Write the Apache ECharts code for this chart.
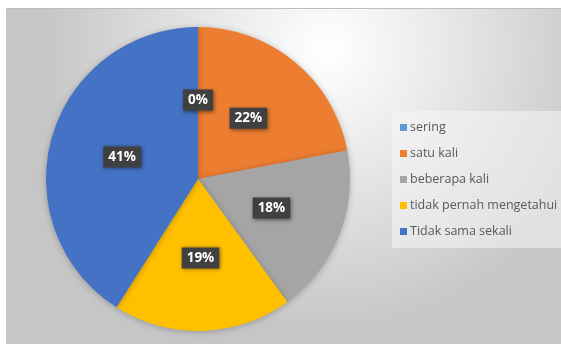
<!DOCTYPE html>
<html>
<head>
<meta charset="utf-8">
<script src="https://cdn.jsdelivr.net/npm/echarts@6/dist/echarts.min.js"></script>
<style>
  html, body { margin: 0; padding: 0; background: #ffffff; }
  #frame { position: absolute; left: 6px; top: 8px; width: 555px; height: 336px; border-top: 1px solid #bdbdbd; box-sizing: border-box; }
  #chart { width: 100%; height: 100%; }
</style>
</head>
<body>
<div id="frame"><div id="chart"></div></div>
<script>
// categories and values (percent)
const categories = ['sering', 'satu kali', 'beberapa kali', 'tidak pernah mengetahui', 'Tidak sama sekali'];
const values = [0, 22, 18, 19, 41];
const colors = ['#5B9BD5', '#ED7D31', '#A5A5A5', '#FFC000', '#4472C4'];

var myChart = echarts.init(document.getElementById('chart'));
var option = {
  animation: false,
  backgroundColor: {
    type: 'radial', x: 0.58, y: 0.12, r: 0.85,
    colorStops: [
      { offset: 0, color: '#ffffff' },
      { offset: 0.35, color: '#ececec' },
      { offset: 1, color: '#c6c6c6' }
    ]
  },
  color: colors,
  legend: {
    orient: 'vertical',
    left: 386,
    top: 102,
    padding: [10, 8, 10, 8],
    backgroundColor: 'rgba(245,245,245,0.55)',
    itemWidth: 7,
    itemHeight: 7,
    itemGap: 13,
    icon: 'rect',
    textStyle: { color: '#595959', fontSize: 12.5, fontFamily: 'Open Sans', padding: [0, 0, 0, -2] },
    data: categories
  },
  series: [{
    type: 'pie',
    center: [192, 170],
    radius: [0, 152],
    startAngle: 90,
    clockwise: true,
    avoidLabelOverlap: false,
    itemStyle: { shadowBlur: 6, shadowColor: 'rgba(0,0,0,0.25)', shadowOffsetY: 1 },
    label: {
      show: true,
      position: 'inside',
      formatter: '{c}%',
      color: '#ffffff',
      fontWeight: 'bold',
      fontSize: 13.5,
      fontFamily: 'Open Sans',
      backgroundColor: '#404040',
      padding: [4, 5, 3, 5],
      shadowBlur: 4,
      shadowColor: 'rgba(0,0,0,0.5)',
      shadowOffsetX: 1,
      shadowOffsetY: 1
    },
    labelLine: { show: false },
    data: categories.map(function (name, i) { return { name: name, value: values[i] }; })
  }]
};
myChart.setOption(option);
</script>
</body>
</html>
